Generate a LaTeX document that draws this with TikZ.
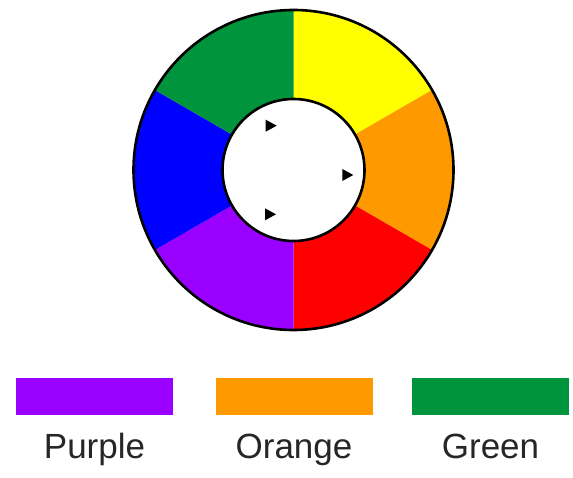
\documentclass[tikz,border=0pt]{standalone}
\usepackage{fontspec}
\setmainfont{Liberation Sans}
\usetikzlibrary{positioning}
\definecolor{wheelyellow}{RGB}{255,255,0}
\definecolor{wheelorange}{RGB}{255,153,0}
\definecolor{wheelred}{RGB}{255,0,0}
\definecolor{wheelpurple}{RGB}{153,0,255}
\definecolor{wheelblue}{RGB}{0,0,255}
\definecolor{wheelgreen}{RGB}{0,148,60}
\begin{document}
\begin{tikzpicture}[x=1pt,y=1pt,font=\fontsize{35}{42}\selectfont]
\tikzstyle{rim}=[draw=black,line width=2.6pt]
\tikzstyle{legendbar}=[minimum width=157pt,minimum height=37pt,inner sep=0pt]
\tikzstyle{legendlabel}=[anchor=base,inner sep=0pt,text=black!85]
\useasboundingbox (0,0) rectangle (573,477);
\coordinate (hub) at (293.5,307);
% six wedges, inner disc blanked afterwards
\foreach \a/\c in {30/wheelyellow,-30/wheelorange,-90/wheelred,-150/wheelpurple,150/wheelblue,90/wheelgreen}
  \fill[\c] (hub) -- ++(\a:160pt) arc[start angle=\a,end angle=\a+60,radius=160pt] -- cycle;
\draw[rim] (hub) circle[radius=160pt];
\draw[rim,fill=white] (hub) circle[radius=71pt];
% little markers inside
\foreach \x/\y in {270.7/351.3,347.3/302,270/262.7}
  \fill[black] (\x-5,\y+6) -- (\x+6,\y) -- (\x-5,\y-6) -- cycle;
\node[legendbar,fill=wheelpurple] (purplebar) at (94.5,80.5) {};
\node[legendbar,fill=wheelorange] (orangebar) at (294,80.5) {};
\node[legendbar,fill=wheelgreen] (greenbar) at (490.5,80.5) {};
\node[legendlabel] (purplelabel) at (94.5,19) {Purple};
\node[legendlabel] (orangelabel) at (294,19) {Orange};
\node[legendlabel] (greenlabel) at (490.5,19) {Green};
\end{tikzpicture}
\end{document}
